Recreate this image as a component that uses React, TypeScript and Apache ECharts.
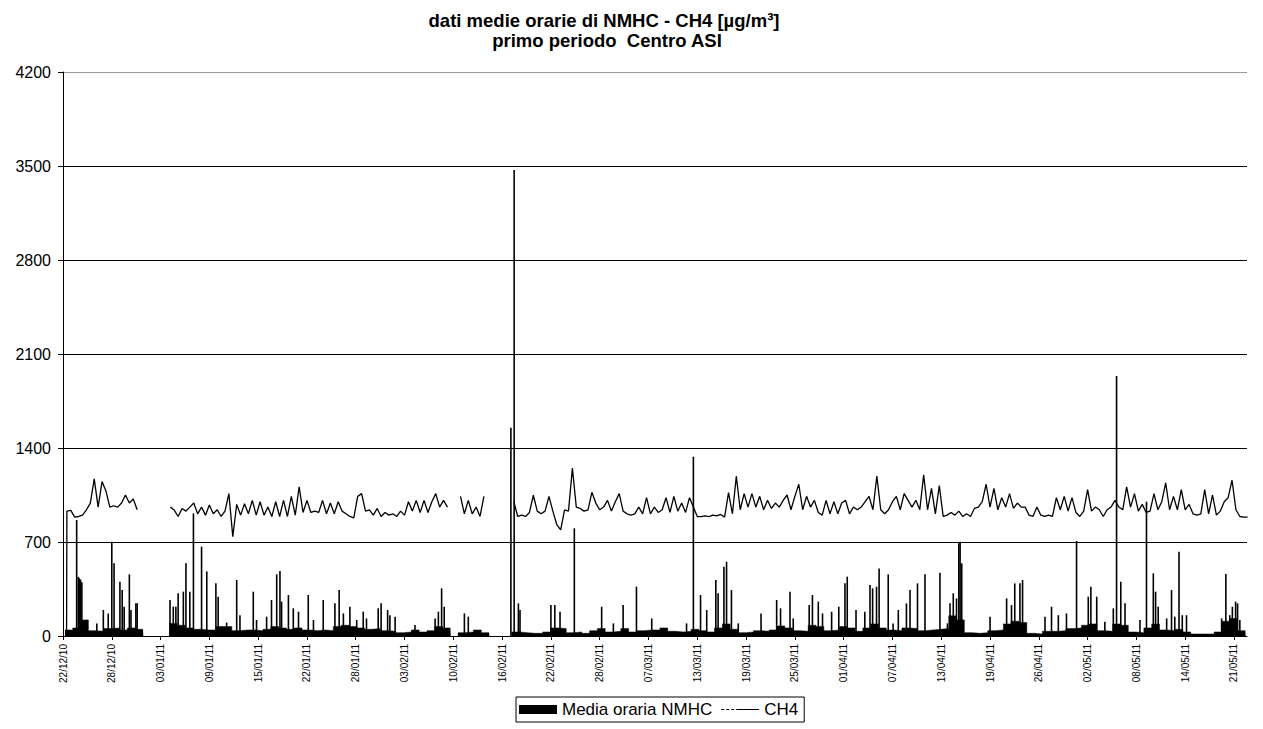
import { useEffect, useRef } from "react";
import * as echarts from "echarts";

// ---------- titles & labels ----------
const TITLE_LINE_1 = "dati medie orarie di NMHC - CH4 [µg/m³]";
const TITLE_LINE_2 = "primo periodo  Centro ASI";
const SERIES_NMHC = "Media oraria NMHC";
const SERIES_CH4 = "CH4";

// x axis: hourly index, one label every 150 hours
const xTickLabels = [
  "22/12/10", "28/12/10", "03/01/11", "09/01/11", "15/01/11", "22/01/11", "28/01/11",
  "03/02/11", "10/02/11", "16/02/11", "22/02/11", "28/02/11", "07/03/11", "13/03/11",
  "19/03/11", "25/03/11", "01/04/11", "07/04/11", "13/04/11", "19/04/11", "26/04/11",
  "02/05/11", "08/05/11", "14/05/11", "21/05/11",
];
const HOURS_PER_LABEL = 150;
const LAST_HOUR = 3640;
const Y_MIN = 0;
const Y_MAX = 4200;
const Y_STEP = 700;

// ---------- CH4 (values every 12 hours, per continuous segment) ----------
const ch4Lead: [number, number] = [11, 40];
const ch4StartA = 12;
const ch4A = [930, 935, 885, 890, 900, 940, 990, 1170, 960, 1150, 1080, 960, 970, 960, 990, 1050, 990, 1020, 940];
const ch4StartB = 330;
const ch4B = [
  960, 938, 890, 950, 930, 960, 990, 910, 960, 900,
  975, 910, 940, 890, 930, 1060, 740, 980, 900, 985,
  910, 1010, 900, 1000, 900, 960, 890, 1000, 890, 1010,
  890, 1040, 900, 1110, 920, 1010, 920, 930, 920, 1010,
  910, 990, 910, 1000, 930, 910, 890, 880, 1040, 1060,
  930, 940, 900, 950, 890, 920, 900, 910, 890, 930,
  900, 1000, 930, 1010, 920, 1010, 920, 1000, 1060, 960,
  1010, 960,
];
const ch4StartC = 1222;
const ch4C = [1040, 910, 1010, 910, 960, 890, 1040];
const ch4StartD = 1386;
const ch4D = [
  1000, 890, 900, 890, 920, 1048, 930, 910, 930, 1040,
  930, 830, 790, 940, 930, 1250, 960, 950, 930, 940,
  1070, 990, 940, 960, 1010, 930, 1000, 1060, 930, 910,
  900, 910, 960, 910, 1030, 910, 960, 920, 940, 1030,
  920, 1040, 930, 990, 920, 1030, 960, 889, 889, 895,
  889, 900, 895, 905, 885, 1067, 910, 1190, 940, 1060,
  960, 1060, 960, 1040, 940, 1010, 950, 990, 960, 1010,
  1050, 940, 1040, 1130, 940, 1040, 960, 1010, 920, 900,
  1010, 910, 1000, 910, 990, 1010, 910, 960, 940, 960,
  1000, 1040, 940, 1190, 940, 910, 940, 1000, 1040, 940,
  1060, 1010, 960, 1010, 940, 1200, 940, 1100, 910, 1120,
  890, 900, 920, 900, 930, 890, 910, 890, 950, 960,
  1000, 1130, 960, 1100, 940, 1030, 960, 1060, 950, 990,
  960, 960, 900, 890, 960, 900, 890, 900, 890, 1030,
  940, 1040, 930, 1030, 920, 890, 930, 1090, 930, 960,
  940, 890, 940, 960, 1010, 960, 940, 1110, 960, 1060,
  930, 980, 920, 930, 1060, 940, 1000, 1140, 940, 1040,
  940, 1090, 940, 980, 910, 900, 910, 1090, 910, 1050,
  900, 930, 1000, 1030, 1160, 940, 890, 885, 885,
];
const CH4_STEP = 12;

// ---------- NMHC: daily low background level (per continuous segment) ----------
const nmhcBaseStartA = 6;
const nmhcBaseA = [45, 60, 120, 40, 35, 55, 60, 45, 60, 50];
const nmhcBaseStartB = 327;
const nmhcBaseB = [
  94, 80, 60, 50, 45, 45, 70, 70, 40, 45, 45, 40, 50, 70, 60, 50, 60, 45,
  40, 45, 40, 70, 80, 70, 60, 50, 55, 40, 35, 25, 30, 45, 30, 40, 70, 60,
];
const nmhcBaseStartC = 1214;
const nmhcBaseC = [25, 30, 45, 25];
const nmhcBaseStartD = 1379;
const nmhcBaseD = [
  30, 25, 20, 20, 30, 60, 55, 25, 30, 20, 40, 55, 30, 35, 55, 30, 40, 45,
  45, 60, 35, 30, 35, 50, 40, 30, 60, 90, 50, 25, 30, 40, 35, 45, 75, 60,
  40, 35, 80, 70, 40, 45, 70, 60, 35, 60, 90, 60, 45, 40, 60, 55, 40, 45,
  50, 55, 150, 120, 25, 20, 25, 40, 45, 90, 110, 100, 20, 15, 35, 35, 40, 55,
  60, 80, 90, 40, 35, 90, 80, 30, 25, 60, 90, 45, 40, 50, 30, 15, 15, 15,
  30, 110, 130, 40,
];
const NMHC_BASE_STEP = 24;

// ---------- NMHC: individual hourly peaks [hour, value] ----------
const nmhcPeaks: [number, number][] = [
  [42, 864], [47, 440], [50, 430], [54, 420], [58, 400], [104, 94], [124, 194], [139, 167],
  [150, 702], [157, 541], [175, 404], [182, 342], [188, 218], [204, 459], [209, 194], [224, 243],
  [228, 243], [329, 268], [339, 218], [347, 218], [354, 318], [370, 330], [378, 541], [390, 330],
  [401, 913], [426, 665], [442, 481], [470, 392], [477, 293], [503, 100], [534, 417], [544, 155],
  [585, 330], [595, 119], [626, 144], [641, 268], [657, 459], [667, 484], [672, 256], [693, 305],
  [708, 206], [724, 181], [754, 305], [770, 119], [800, 268], [836, 243], [849, 342], [862, 168],
  [882, 218], [903, 119], [923, 181], [933, 131], [969, 206], [978, 243], [998, 194], [1005, 155],
  [1021, 144], [1082, 82], [1144, 131], [1154, 181], [1164, 355], [1172, 218], [1234, 168], [1246, 144],
  [1377, 1550], [1387, 3470], [1400, 243], [1405, 194], [1500, 230], [1512, 230], [1528, 181], [1572, 802],
  [1656, 218], [1692, 94], [1722, 230], [1763, 367], [1810, 131], [1917, 94], [1938, 1335], [1960, 305],
  [1979, 194], [2007, 417], [2014, 318], [2032, 516], [2040, 553], [2055, 342], [2076, 94], [2146, 168],
  [2194, 268], [2206, 206], [2235, 330], [2245, 131], [2294, 230], [2304, 305], [2322, 256], [2335, 168],
  [2363, 181], [2385, 218], [2404, 392], [2411, 442], [2438, 194], [2465, 181], [2481, 380], [2489, 355],
  [2501, 367], [2509, 503], [2537, 459], [2552, 94], [2568, 194], [2593, 243], [2604, 342], [2627, 392],
  [2650, 459], [2696, 471], [2719, 94], [2727, 243], [2737, 318], [2747, 280], [2754, 690], [2758, 702],
  [2763, 541], [2850, 144], [2901, 280], [2916, 230], [2926, 392], [2942, 392], [2950, 417], [3019, 144],
  [3039, 218], [3060, 155], [3085, 168], [3116, 708], [3152, 293], [3160, 367], [3178, 293], [3203, 107],
  [3229, 206], [3239, 1936], [3252, 404], [3265, 243], [3311, 119], [3331, 1000], [3352, 466], [3359, 330],
  [3367, 218], [3393, 131], [3408, 342], [3418, 144], [3431, 628], [3441, 155], [3454, 155], [3562, 131],
  [3575, 462], [3587, 155], [3595, 218], [3605, 256], [3611, 243], [3618, 119],
];

// ---------- builders (index -> hour) ----------
type Seg = { start: number; values: number[] };
function segmentsToLine(segs: Seg[], step: number, closeStep: boolean) {
  const out: (number | null)[][] = [];
  segs.forEach((s) => {
    s.values.forEach((v, i) => out.push([s.start + i * step, v]));
    if (closeStep) out.push([s.start + s.values.length * step, s.values[s.values.length - 1]]);
    out.push([s.start + s.values.length * step + 1, null]);
  });
  return out;
}

const ch4Data = [
  [ch4Lead[0], ch4Lead[1]],
  ...segmentsToLine(
    [
      { start: ch4StartA, values: ch4A },
      { start: ch4StartB, values: ch4B },
      { start: ch4StartC, values: ch4C },
      { start: ch4StartD, values: ch4D },
    ],
    CH4_STEP,
    false
  ),
];

const nmhcBaseData = segmentsToLine(
  [
    { start: nmhcBaseStartA, values: nmhcBaseA },
    { start: nmhcBaseStartB, values: nmhcBaseB },
    { start: nmhcBaseStartC, values: nmhcBaseC },
    { start: nmhcBaseStartD, values: nmhcBaseD },
  ],
  NMHC_BASE_STEP,
  true
);

const FONT = '"Liberation Sans", Arial, Helvetica, sans-serif';
const CH4_ICON =
  "path://M0,0h0.01v0.01h-0.01z M37.99,8.99h0.01v0.01h-0.01z M0,4h3v1h-3z M5,4h3v1h-3z M10,4h3v1h-3z M15,4h23v1h-23z";

export default function App() {
  const ref = useRef<HTMLDivElement>(null);

  useEffect(() => {
    document.body.style.margin = "0";
    const chart = echarts.init(ref.current as HTMLDivElement, null, { renderer: "svg" });
    const option: any = {
      animation: false,
      backgroundColor: "#fff",
      textStyle: { fontFamily: FONT },
      graphic: [
        {
          type: "text",
          x: 604,
          y: 20,
          style: {
            text: TITLE_LINE_1,
            font: `bold 18.5px ${FONT}`,
            fill: "#000",
            align: "center",
            verticalAlign: "middle",
          },
        },
        {
          type: "text",
          x: 607,
          y: 40,
          style: {
            text: TITLE_LINE_2,
            font: `bold 18.5px ${FONT}`,
            fill: "#000",
            align: "center",
            verticalAlign: "middle",
          },
        },
      ],
      grid: { left: 63, right: 16, top: 72, bottom: 93, containLabel: false },
      legend: {
        left: 516,
        top: 697,
        data: [
          { name: SERIES_NMHC, icon: "rect" },
          { name: SERIES_CH4, icon: CH4_ICON },
        ],
        itemWidth: 38,
        itemHeight: 9,
        itemGap: 9,
        selectedMode: false,
        borderColor: "#000",
        borderWidth: 1,
        padding: [4, 6, 4, 3],
        textStyle: { fontSize: 17, color: "#000", fontFamily: FONT },
      },
      xAxis: {
        type: "value",
        min: 0,
        max: LAST_HOUR,
        interval: HOURS_PER_LABEL,
        axisLine: { show: true, lineStyle: { color: "#000", width: 1 } },
        axisTick: { show: true, length: 4, lineStyle: { color: "#000" } },
        splitLine: { show: false },
        axisLabel: {
          rotate: 90,
          fontSize: 10,
          color: "#000",
          margin: 8,
          fontFamily: FONT,
          showMaxLabel: false,
          formatter: (v: number) => {
            const i = Math.round(v / HOURS_PER_LABEL);
            return Math.abs(v - i * HOURS_PER_LABEL) < 1e-6 && i < xTickLabels.length ? xTickLabels[i] : "";
          },
        },
      },
      yAxis: {
        type: "value",
        min: Y_MIN,
        max: Y_MAX,
        interval: Y_STEP,
        axisLine: { show: true, lineStyle: { color: "#000", width: 1 } },
        axisTick: { show: true, length: 5, lineStyle: { color: "#000" } },
        axisLabel: {
          fontSize: 16,
          color: "#000",
          margin: 12,
          fontFamily: FONT,
          formatter: (v: number) => String(v),
        },
        splitLine: {
          show: true,
          lineStyle: { color: ["#000", "#000", "#000", "#000", "#000", "#000", "#999"], width: 1 },
        },
      },
      series: [
        {
          name: SERIES_NMHC,
          type: "line",
          step: "end",
          data: nmhcBaseData,
          symbol: "none",
          connectNulls: false,
          lineStyle: { color: "#000", width: 0.5 },
          itemStyle: { color: "#000" },
          areaStyle: { color: "#000", opacity: 1 },
          z: 2,
        },
        {
          name: SERIES_NMHC,
          type: "bar",
          data: nmhcPeaks,
          barWidth: 1.6,
          itemStyle: { color: "#000" },
          z: 3,
        },
        {
          name: SERIES_CH4,
          type: "line",
          data: ch4Data,
          symbol: "none",
          connectNulls: false,
          lineStyle: { color: "#000", width: 1.3 },
          itemStyle: { color: "#000" },
          z: 4,
        },
      ],
    };
    chart.setOption(option);
    return () => chart.dispose();
  }, []);

  return <div ref={ref} style={{ width: 1263, height: 729 }} />;
}
